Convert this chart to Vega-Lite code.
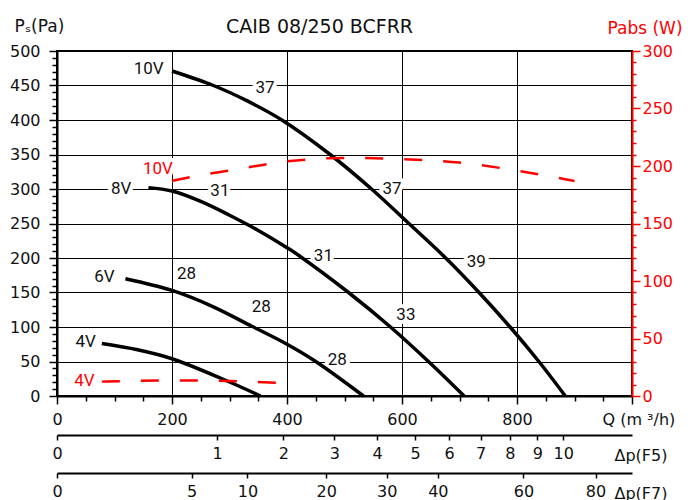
{
  "$schema": "https://vega.github.io/schema/vega-lite/v6.json",
  "padding": {"left": 8, "top": 16, "right": 5, "bottom": 0},
  "config": {
    "view": {"stroke": null},
    "font": "DejaVu Sans",
    "axis": {
      "labelFont": "DejaVu Sans", "labelFontSize": 16, "labelColor": "#111",
      "titleFont": "DejaVu Sans", "titleFontSize": 16, "titleFontWeight": "normal", "titleColor": "#111",
      "domainColor": "#000", "domainWidth": 2, "tickColor": "#000", "tickWidth": 1.5,
      "gridColor": "#000", "gridWidth": 1, "labelOverlap": false, "labelFlush": false, "tickCount": 1000, "format": "d"
    }
  },
  "datasets": {
    "ps": [
      {"volt": "10V", "q": 200, "ps": 471}, {"volt": "10V", "q": 272, "ps": 450}, {"volt": "10V", "q": 330, "ps": 428},
      {"volt": "10V", "q": 391, "ps": 400}, {"volt": "10V", "q": 475, "ps": 350}, {"volt": "10V", "q": 547, "ps": 300},
      {"volt": "10V", "q": 612, "ps": 250}, {"volt": "10V", "q": 676, "ps": 200}, {"volt": "10V", "q": 734, "ps": 150},
      {"volt": "10V", "q": 788, "ps": 100}, {"volt": "10V", "q": 838, "ps": 50}, {"volt": "10V", "q": 884, "ps": 0},
      {"volt": "8V", "q": 159, "ps": 302}, {"volt": "8V", "q": 200, "ps": 297}, {"volt": "8V", "q": 250, "ps": 282},
      {"volt": "8V", "q": 300, "ps": 262}, {"volt": "8V", "q": 350, "ps": 240}, {"volt": "8V", "q": 400, "ps": 215},
      {"volt": "8V", "q": 420, "ps": 204}, {"volt": "8V", "q": 507, "ps": 150}, {"volt": "8V", "q": 580, "ps": 100},
      {"volt": "8V", "q": 646, "ps": 50}, {"volt": "8V", "q": 708, "ps": 0},
      {"volt": "6V", "q": 119, "ps": 170}, {"volt": "6V", "q": 200, "ps": 153}, {"volt": "6V", "q": 270, "ps": 130},
      {"volt": "6V", "q": 339, "ps": 101}, {"volt": "6V", "q": 400, "ps": 75}, {"volt": "6V", "q": 450, "ps": 50},
      {"volt": "6V", "q": 533, "ps": 0},
      {"volt": "4V", "q": 78, "ps": 76}, {"volt": "4V", "q": 140, "ps": 67}, {"volt": "4V", "q": 200, "ps": 54},
      {"volt": "4V", "q": 287, "ps": 25}, {"volt": "4V", "q": 354, "ps": 0}
    ],
    "pabs": [
      {"volt": "10V", "q": 200, "pabs": 187}, {"volt": "10V", "q": 250, "pabs": 192}, {"volt": "10V", "q": 300, "pabs": 196},
      {"volt": "10V", "q": 400, "pabs": 204}, {"volt": "10V", "q": 500, "pabs": 207}, {"volt": "10V", "q": 600, "pabs": 206},
      {"volt": "10V", "q": 700, "pabs": 203}, {"volt": "10V", "q": 800, "pabs": 196}, {"volt": "10V", "q": 900, "pabs": 187},
      {"volt": "4V", "q": 78, "pabs": 12.5}, {"volt": "4V", "q": 200, "pabs": 13.5}, {"volt": "4V", "q": 300, "pabs": 13},
      {"volt": "4V", "q": 381, "pabs": 11.5}
    ],
    "labels": [
      {"label": "10V", "kind": "pressure", "q": 159.5, "ps": 474.6},
      {"label": "37", "kind": "pressure", "q": 361.7, "ps": 445.7},
      {"label": "37", "kind": "pressure", "q": 582.6, "ps": 300.3},
      {"label": "39", "kind": "pressure", "q": 729, "ps": 193.5},
      {"label": "10V", "kind": "power", "q": 175.5, "ps": 329.3},
      {"label": "8V", "kind": "pressure", "q": 111.7, "ps": 300.3},
      {"label": "31", "kind": "pressure", "q": 283.3, "ps": 297.4},
      {"label": "31", "kind": "pressure", "q": 463.3, "ps": 202.9},
      {"label": "33", "kind": "pressure", "q": 606.8, "ps": 118},
      {"label": "6V", "kind": "pressure", "q": 82.6, "ps": 172.8},
      {"label": "28", "kind": "pressure", "q": 225.2, "ps": 177},
      {"label": "28", "kind": "pressure", "q": 355.1, "ps": 129.3},
      {"label": "28", "kind": "pressure", "q": 487.3, "ps": 51.9},
      {"label": "4V", "kind": "pressure", "q": 49.9, "ps": 78},
      {"label": "4V", "kind": "power", "q": 47.8, "ps": 22}
    ],
    "f5": [{"dp": 0}, {"dp": 1}, {"dp": 2}, {"dp": 3}, {"dp": 4}, {"dp": 5}, {"dp": 6}, {"dp": 7}, {"dp": 8}, {"dp": 9}, {"dp": 10}],
    "f7": [{"dp": 0}, {"dp": 5}, {"dp": 10}, {"dp": 20}, {"dp": 30}, {"dp": 40}, {"dp": 60}, {"dp": 80}]
  },
  "spacing": 5,
  "vconcat": [
    {
      "width": 575,
      "height": 345,
      "view": {"stroke": "#000", "strokeWidth": 2},
      "resolve": {"scale": {"y": "independent", "x": "independent"}},
      "layer": [
        {
          "layer": [
            {
              "data": {"name": "labels"},
              "mark": {"type": "text", "fontSize": 17, "font": "Roboto", "stroke": "white", "strokeWidth": 8, "strokeJoin": "round", "fill": "white", "baseline": "middle"},
              "encoding": {
                "x": {"field": "q", "type": "quantitative", "scale": {"domain": [0, 1000], "nice": false}},
                "y": {"field": "ps", "type": "quantitative", "scale": {"domain": [0, 500], "nice": false}},
                "text": {"field": "label"}
              }
            },
            {
              "data": {"name": "ps"},
              "mark": {"type": "line", "color": "#000", "strokeWidth": 3.5, "interpolate": "catmull-rom"},
              "encoding": {
                "x": {"field": "q", "type": "quantitative",
                  "axis": {
                    "orient": "bottom",
                    "values": [0, 50, 100, 150, 200, 250, 300, 350, 400, 450, 500, 550, 600, 650, 700, 750, 800, 850, 900, 950, 1000],
                    "labelExpr": "datum.value % 200 === 0 && datum.value < 1000 ? datum.label : ''",
                    "tickSize": {"condition": {"test": "datum.value % 200 === 0", "value": 8}, "value": 5},
                    "gridOpacity": {"condition": {"test": "datum.value % 200 === 0 && datum.value > 0 && datum.value < 1000", "value": 1}, "value": 0},
                    "grid": true, "labelPadding": 7,
                    "title": "Q (m ³/h)", "titleAngle": 0, "titleAlign": "left", "titleBaseline": "middle", "titleX": 545, "titleY": 23.5
                  }},
                "y": {"field": "ps", "type": "quantitative",
                  "axis": {
                    "orient": "left",
                    "values": [0,10,20,30,40,50,60,70,80,90,100,110,120,130,140,150,160,170,180,190,200,210,220,230,240,250,260,270,280,290,300,310,320,330,340,350,360,370,380,390,400,410,420,430,440,450,460,470,480,490,500],
                    "labelExpr": "datum.value % 50 === 0 ? datum.label : ''",
                    "tickSize": {"condition": {"test": "datum.value % 50 === 0", "value": 8}, "value": 5},
                    "gridOpacity": {"condition": {"test": "datum.value % 50 === 0 && datum.value > 0 && datum.value < 500", "value": 1}, "value": 0},
                    "grid": true, "labelPadding": 9,
                    "title": "Pₛ(Pa)", "titleFontSize": 17, "titleAngle": 0, "titleAlign": "left", "titleBaseline": "middle", "titleX": -43, "titleY": -25
                  }},
                "detail": {"field": "volt"}
              }
            },
            {
              "data": {"name": "labels"},
              "mark": {"type": "text", "fontSize": 17, "font": "Roboto", "baseline": "middle"},
              "encoding": {
                "x": {"field": "q", "type": "quantitative"},
                "y": {"field": "ps", "type": "quantitative"},
                "text": {"field": "label"},
                "color": {"field": "kind", "type": "nominal", "scale": {"domain": ["pressure", "power"], "range": ["#111", "#f00"]}, "legend": null}
              }
            }
          ]
        },
        {
          "data": {"name": "pabs"},
          "mark": {"type": "line", "color": "#f00", "strokeWidth": 2.5, "strokeDash": [18, 21], "interpolate": "monotone"},
          "encoding": {
            "x": {"field": "q", "type": "quantitative", "scale": {"domain": [0, 1000], "nice": false},
              "axis": {
                "orient": "top", "domain": false, "ticks": false, "labels": false, "grid": false,
                "title": "CAIB 08/250 BCFRR", "titleFont": "DejaVu Sans", "titleFontSize": 19, "titleColor": "#111",
                "titleAngle": 0, "titleAlign": "center", "titleBaseline": "middle", "titleX": 262, "titleY": -25
              }},
            "y": {"field": "pabs", "type": "quantitative", "scale": {"domain": [0, 300], "nice": false},
              "axis": {
                "orient": "right",
                "values": [0,10,20,30,40,50,60,70,80,90,100,110,120,130,140,150,160,170,180,190,200,210,220,230,240,250,260,270,280,290,300],
                "labelExpr": "datum.value % 50 === 0 ? datum.label : ''",
                "tickSize": {"condition": {"test": "datum.value % 50 === 0", "value": 8}, "value": 4},
                "grid": false, "labelPadding": 2,
                "domainColor": "#f00", "tickColor": "#f00", "labelColor": "#f00", "titleColor": "#f00",
                "title": "Pabs (W)", "titleFontSize": 17, "titleAngle": 0, "titleAlign": "left", "titleBaseline": "middle", "titleX": -25, "titleY": -22.5
              }},
            "detail": {"field": "volt"}
          }
        }
      ]
    },
    {
      "spacing": 9,
      "vconcat": [
        {
          "width": 575,
          "height": 1,
          "data": {"name": "f5"},
          "mark": {"type": "rule", "opacity": 0},
          "encoding": {
            "x": {"field": "dp", "type": "quantitative", "scale": {"type": "sqrt", "domain": [0, 12.9], "nice": false, "zero": true},
              "axis": {"orient": "bottom", "values": [0,1,2,3,4,5,6,7,8,9,10], "grid": false, "tickSize": 5, "labelPadding": 5,
                "title": "Δp(F5)", "titleAngle": 0, "titleAlign": "left", "titleBaseline": "middle", "titleX": 557, "titleY": 20}}
          }
        },
        {
          "width": 575,
          "height": 1,
          "data": {"name": "f7"},
          "mark": {"type": "rule", "opacity": 0},
          "encoding": {
            "x": {"field": "dp", "type": "quantitative", "scale": {"type": "sqrt", "domain": [0, 91.2], "nice": false, "zero": true},
              "axis": {"orient": "bottom", "values": [0,5,10,20,30,40,60,80], "grid": false, "tickSize": 5, "labelPadding": 5,
                "title": "Δp(F7)", "titleAngle": 0, "titleAlign": "left", "titleBaseline": "middle", "titleX": 557, "titleY": 20}}
          }
        }
      ]
    }
  ]
}
